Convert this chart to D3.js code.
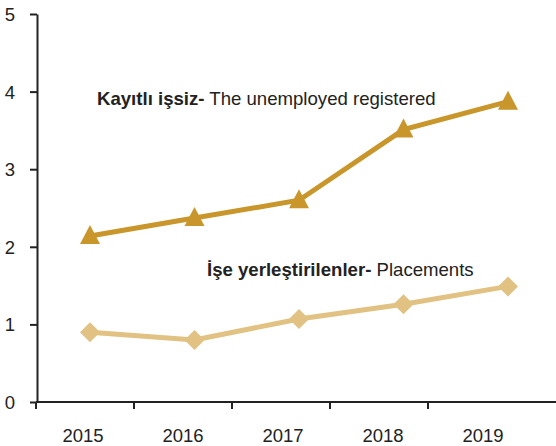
<!DOCTYPE html>
<html lang="tr">
<head>
<meta charset="UTF-8">
<script src="https://d3js.org/d3.v7.min.js"></script>
<style>
  body { margin: 0; background: #fff; font-family: "Liberation Sans", Arial, sans-serif; }
  .axis text { font-size: 18.5px; fill: #222; font-family: "Liberation Sans", Arial, sans-serif; }
  .axis path, .axis line { stroke: #222; stroke-width: 2px; }
  .note { font-size: 18.6px; fill: #222; }
</style>
</head>
<body>
<svg id="chart" width="556" height="446"></svg>
<script>
var years = ["2015", "2016", "2017", "2018", "2019"];
var registered = [2.14, 2.37, 2.60, 3.51, 3.87];
var placements = [0.90, 0.80, 1.07, 1.26, 1.49];
var yTicks = [0, 1, 2, 3, 4, 5];

var svg = d3.select("#chart");

var y = d3.scaleLinear().domain([0, 5]).range([402, 14]);
var xBand = d3.scaleBand().domain(years).range([36, 526]);
var xPoint = d3.scalePoint().domain(years).range([90, 508]);
var xLabel = d3.scalePoint().domain(years).range([83, 483]);

// y axis
var yAxis = svg.append("g").attr("class", "axis")
  .attr("transform", "translate(37,0)")
  .call(d3.axisLeft(y).tickValues(yTicks).tickFormat(d3.format("d"))
    .tickSize(7).tickSizeOuter(0).tickPadding(15));
yAxis.selectAll("text").attr("dy", "0.35em");

// x axis: boundary ticks
var xg = svg.append("g").attr("class", "axis");
xg.append("line").attr("x1", 36).attr("x2", 556)
  .attr("y1", y(0)).attr("y2", y(0));
xg.selectAll("line.tk").data(years).enter().append("line").attr("class", "tk")
  .attr("x1", d => xBand(d)).attr("x2", d => xBand(d))
  .attr("y1", y(0)).attr("y2", y(0) + 7);
xg.selectAll("text").data(years).enter().append("text")
  .attr("x", d => xLabel(d)).attr("y", 442)
  .attr("text-anchor", "middle").text(d => d);

var line = d3.line().x((d, i) => xPoint(years[i])).y(d => y(d));

// placements
svg.append("path").datum(placements)
  .attr("fill", "none").attr("stroke", "#E1C283").attr("stroke-width", 5)
  .attr("d", line);
svg.selectAll("path.dia").data(placements).enter().append("path").attr("class", "dia")
  .attr("transform", (d, i) => "translate(" + xPoint(years[i]) + "," + y(d) + ")")
  .attr("d", "M0,-10L10,0L0,10L-10,0Z")
  .attr("fill", "#E1C283");

// registered
svg.append("path").datum(registered)
  .attr("fill", "none").attr("stroke", "#C9962B").attr("stroke-width", 5)
  .attr("d", line);
svg.selectAll("path.tri").data(registered).enter().append("path").attr("class", "tri")
  .attr("transform", (d, i) => "translate(" + xPoint(years[i]) + "," + y(d) + ")")
  .attr("d", "M0,-11L10,8L-10,8Z")
  .attr("fill", "#C9962B");

// labels
var t1 = svg.append("text").attr("class", "note").attr("x", 97).attr("y", 105);
t1.append("tspan").attr("font-weight", "bold").text("Kayıtlı işsiz-");
t1.append("tspan").text(" The unemployed registered");

var t2 = svg.append("text").attr("class", "note").attr("x", 207).attr("y", 276);
t2.append("tspan").attr("font-weight", "bold").text("İşe yerleştirilenler-");
t2.append("tspan").text(" Placements");
</script>
</body>
</html>
